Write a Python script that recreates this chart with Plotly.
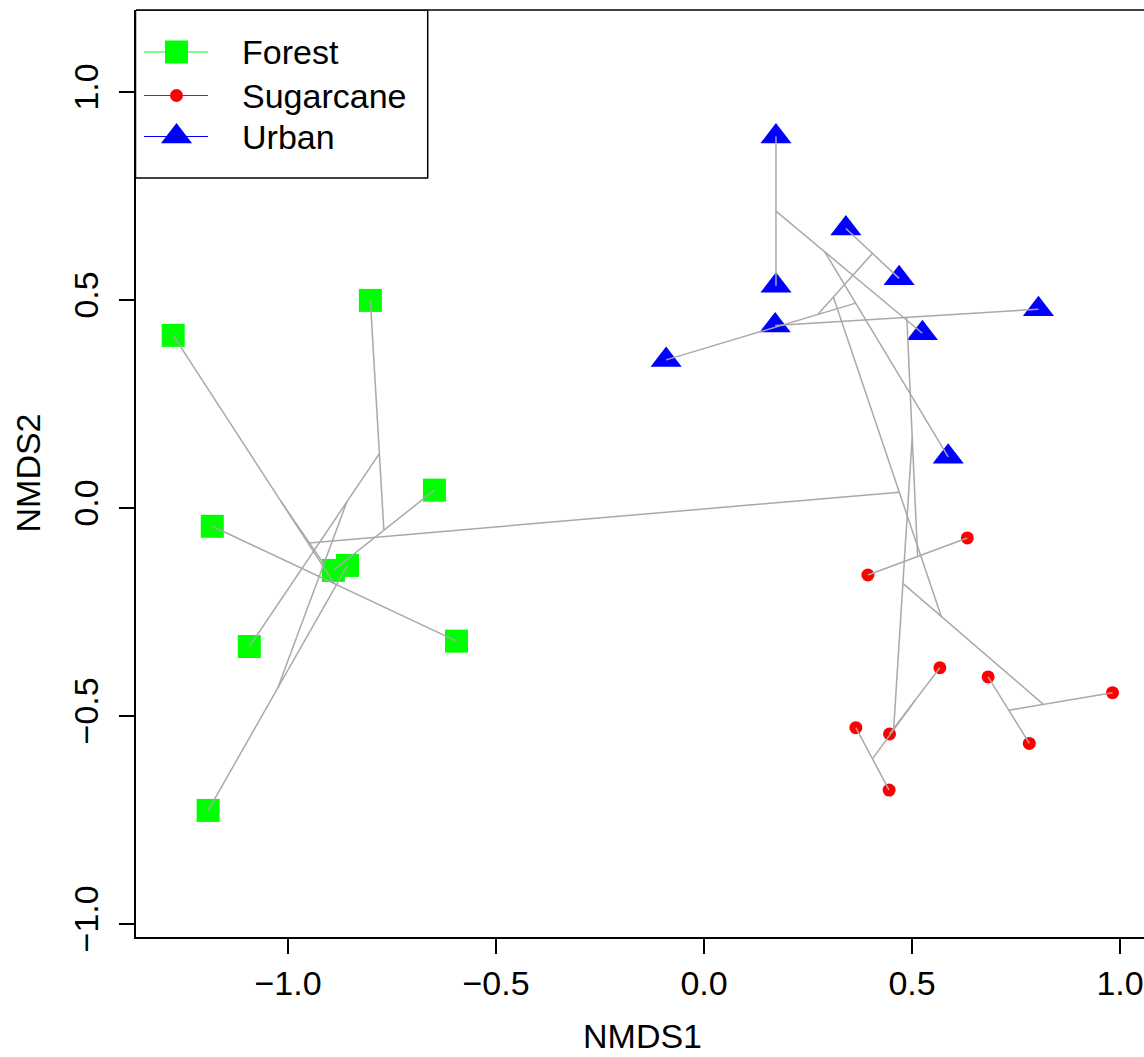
import plotly.graph_objects as go

# ---------------- data (NMDS site scores) ----------------
forest_x = [-0.802, -1.276, -0.648, -1.182, -0.891, -0.857, -1.093, -0.595, -1.192]
forest_y = [0.499, 0.415, 0.043, -0.044, -0.150, -0.138, -0.333, -0.320, -0.727]

sugar_x = [0.633, 0.394, 0.567, 0.683, 0.982, 0.365, 0.446, 0.782, 0.445]
sugar_y = [-0.072, -0.161, -0.384, -0.406, -0.444, -0.528, -0.543, -0.566, -0.678]

urban_x = [0.173, 0.173, 0.341, 0.469, 0.804, 0.525, 0.171, -0.091, 0.587]
urban_y = [0.893, 0.534, 0.672, 0.552, 0.478, 0.420, 0.439, 0.356, 0.123]

groups = ["Forest", "Sugarcane", "Urban"]

# hclust-style merge table (negative = site index 1..27 in order forest, sugarcane, urban;
# positive = earlier merge row)
merge_a = [-3, 1, 2, -6, 3, -4, -2, 7, -19, 9, 10, 11, -21, 13, -23, -10, 15, -12, -15, 18, 17, -13, 22, 21, 14, 25]
merge_b = [-5, -1, -7, -9, 4, -8, 6, 5, -20, -24, -27, -26, -22, 12, -25, -11, 16, -16, -18, 19, 20, -17, -14, 23, 24, 8]

tick_vals = [-1.0, -0.5, 0.0, 0.5, 1.0]

# ---------------- cluster segments (ordicluster) ----------------
all_x = forest_x + sugar_x + urban_x
all_y = forest_y + sugar_y + urban_y
cx, cy, cn = [], [], []
seg_x, seg_y = [], []


def node(k):
    if k < 0:
        return all_x[-k - 1], all_y[-k - 1], 1
    return cx[k - 1], cy[k - 1], cn[k - 1]


for a, b in zip(merge_a, merge_b):
    x1, y1, n1 = node(a)
    x2, y2, n2 = node(b)
    seg_x += [x1, x2, None]
    seg_y += [y1, y2, None]
    cx.append((n1 * x1 + n2 * x2) / (n1 + n2))
    cy.append((n1 * y1 + n2 * y2) / (n1 + n2))
    cn.append(n1 + n2)

# ---------------- layout geometry ----------------
W, H = 1144, 1057
ML, MR, MT, MB = 136, 0, 10, 120
PPU = 416.0          # pixels per data unit (asp = 1)
X0PX, Y0PX = 704.0, 508.0
x_range = [(ML - X0PX) / PPU, (W - MR - X0PX) / PPU]
y_range = [(Y0PX - (H - MB)) / PPU, (Y0PX - MT) / PPU]

FONT = "Liberation Sans, Arial, Helvetica, sans-serif"
FS = 34
GREEN, RED, BLUE = "#00FF00", "#FF0000", "#0000FF"
GRAY = "#A9A9A9"

fig = go.Figure()

fig.add_trace(go.Scatter(x=forest_x, y=forest_y, mode="markers", name=groups[0],
                         marker=dict(symbol="square", size=23, color=GREEN, line=dict(width=0))))
fig.add_trace(go.Scatter(x=sugar_x, y=sugar_y, mode="markers", name=groups[1],
                         marker=dict(symbol="circle", size=13, color=RED, line=dict(width=0))))
fig.add_trace(go.Scatter(x=urban_x, y=urban_y, mode="markers", name=groups[2],
                         marker=dict(symbol="triangle-up", size=27, color=BLUE, line=dict(width=0))))
fig.add_trace(go.Scatter(x=seg_x, y=seg_y, mode="lines", name="cluster",
                         line=dict(color=GRAY, width=1.5), hoverinfo="skip"))

# ---------------- legend (drawn on a pixel-space overlay axis) ----------------
leg_y = [52, 95.5, 136.5]
leg_colors = [GREEN, RED, BLUE]
leg_symbols = ["square", "circle", "triangle-up"]
leg_sizes = [23, 13, 27]
for lab, yy, col, sym, sz in zip(groups, leg_y, leg_colors, leg_symbols, leg_sizes):
    fig.add_trace(go.Scatter(x=[144, 208], y=[yy, yy], mode="lines", xaxis="x2", yaxis="y2",
                             line=dict(color=col, width=1), hoverinfo="skip"))
    fig.add_trace(go.Scatter(x=[176.5], y=[yy], mode="markers", xaxis="x2", yaxis="y2",
                             marker=dict(symbol=sym, size=sz, color=col, line=dict(width=0)),
                             hoverinfo="skip"))

annotations = []
for lab, yy in zip(groups, leg_y):
    annotations.append(dict(x=240, y=yy, xref="x2", yref="y2", text=lab, showarrow=False,
                            xanchor="left", yanchor="middle",
                            font=dict(family=FONT, size=FS, color="black")))

annotations.append(dict(x=(642 - ML) / (W - ML - MR), y=(H - MB - 1036) / (H - MT - MB),
                        xref="paper", yref="paper", text="NMDS1", showarrow=False,
                        xanchor="center", yanchor="middle",
                        font=dict(family=FONT, size=FS, color="black")))
annotations.append(dict(x=(27 - ML) / (W - ML - MR), y=0.5,
                        xref="paper", yref="paper", text="NMDS2", showarrow=False,
                        textangle=-90, xanchor="center", yanchor="middle",
                        font=dict(family=FONT, size=FS, color="black")))

shapes = [
    dict(type="rect", xref="x2", yref="y2", x0=135.5, x1=427.7, y0=10, y1=178,
         line=dict(color="black", width=1.5), fillcolor="white", layer="below"),
    dict(type="line", xref="paper", yref="paper", x0=0, x1=1, y0=1, y1=1,
         line=dict(color="black", width=1.7)),
]

axis_common = dict(showgrid=False, zeroline=False, showline=True, linecolor="black",
                   linewidth=1.7, ticks="outside", ticklen=15, tickwidth=1.7,
                   tickcolor="black", tickvals=tick_vals, tickformat=".1f",
                   tickfont=dict(family=FONT, size=FS, color="black"), mirror=False)

fig.update_layout(
    width=W, height=H,
    margin=dict(l=ML, r=MR, t=MT, b=MB, pad=0),
    paper_bgcolor="white", plot_bgcolor="white",
    showlegend=False,
    xaxis=dict(range=x_range, **axis_common),
    yaxis=dict(range=y_range, tickangle=-90, ticklabelstandoff=8, **axis_common),
    xaxis2=dict(domain=[0, 1], anchor="y2", overlaying="x", range=[ML, W - MR], visible=False),
    yaxis2=dict(domain=[0, 1], anchor="x2", overlaying="y", range=[H - MB, MT], visible=False),
    annotations=annotations,
    shapes=shapes,
)

fig.write_html("out.html")
